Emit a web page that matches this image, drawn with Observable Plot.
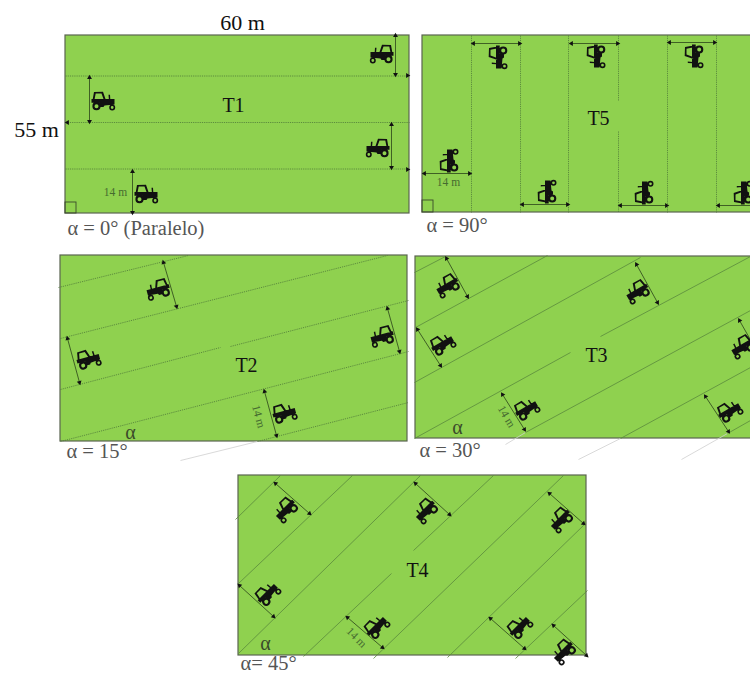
<!DOCTYPE html>
<html>
<head>
<meta charset="utf-8">
<style>html,body{margin:0;padding:0;background:#fff}svg{display:block}</style>
<script src="https://cdn.jsdelivr.net/npm/d3@7"></script>
<script src="https://cdn.jsdelivr.net/npm/@observablehq/plot@0.6"></script>
</head>
<body>
<div id="chart"></div>
<script>
// Fields: x1, y1, x2, y2
const fields = [[65,35,409,213],[422,35,755,212],[60,255,407,441],[415,256,755,438],[238,475,586,655]];
const rightAngles = [[65,202,76,213],[422,200,433,212]];

// Row lines inside the fields: x1, y1, x2, y2
const rowsT1 = [[65,75.5,409,75.5],[65,122,409,122],[65,168.5,409,168.5]];
const rowsT5 = [[471,35,471,212],[520,35,520,212],[568,35,568,212],[618,35,618,100],[618,131,618,212],[667,35,667,212],[716,35,716,212]];
const rowsT2 = [[58,287,188,255],[60,338,387,255],[60,389,220,347],[230,346,408,300],[60,441,408,351],[257,441,408,402]];
const rowsT3 = [[414,272,445,256],[415,327,547,255],[414,382,640,257],[414,438,570,352],[600,336,750,256],[525,432,750,310],[620,438,750,367],[727,433,750,420]];
const rowsT4 = [[235,519,280,475],[238,583,352,475],[238,653,420,475],[303,656,391,573],[413,550,493,475],[373,658,563,475],[447,657,585,523],[515,658,587,590]];
const stubs = [[180,460,257,441],[505,444,525,432],[578,459,620,438],[681,459,727,433]];

// Working-width arrows, both ends: x1, y1, x2, y2
const widthT1 = [[395,35,395,74],[89,77,89,121],[391,124,391,167],[132,171,132,212]];
const widthT5 = [[473,43,519,43],[571,43,617,43],[669,42,714,42],[424,173,469,173],[522,204,567,204],[620,205,666,205],[718,205,765,205]];
const widthT2 = [[163,262,176,306],[67,338,79,382],[387,308,399,351],[264,391,276,435]];
const widthT3 = [[446,258,467,296],[636,264,657,302],[739,320,760,357],[417,329,440,365],[502,394,524,429],[705,396,728,431]];
const widthT4 = [[275,483,309,513],[415,483,449,514],[549,493,583,523],[239,585,273,616],[347,617,382,647],[490,618,524,648],[553,625,586,655]];
// Single arrowheads on the field edges: x, y, dx, dy
const edgeHeads = [[407,75,1,0],[407,169,1,0],[67,122,-1,0]];

// Tractors: x, y, heading angle
const tractorsRight = [[102,100,0],[145,193,0],[448,161,-90],[546,192,-90],[643,193,-90],[742,193,-90],[87,358,-15],[283,412,-15],[441,343,-30],[525,408,-30],[728,410,-30],[266,593,-45],[375,626,-45],[518,626,-45]];
const tractorsLeft = [[382,53,0],[378,147,0],[497,56,-90],[595,55,-90],[693,55,-90],[158,288,-15],[382,335,-15],[447,284,-30],[637,290,-30],[742,345,-30],[285,508,-45],[425,509,-45],[560,518,-45],[563,650,-45]];

// Text
const treatments = [["T1",233,105],["T5",598,118],["T2",246,365],["T3",596,355],["T4",417,570]];
const dimensions = [["60 m",242,22],["55 m",36,129]];
const alphas = [["α",130,432],["α",457,427],["α",265,643]];
const captions = [["α = 0° (Paralelo)",67,228],["α = 90°",426,225],["α = 15°",66,451],["α = 30°",419,450],["α= 45°",240,663]];
const widthLabels = [["14 m",115,192,0],["14 m",448,182,0],["14 m",258,416,75],["14 m",506,416,60],["14 m",356,637,45]];

function tractor(sign) {
  return {
    draw(ctx, size) {
      const k = Math.sqrt(size / Math.PI) / 10;
      const poly = pts => {
        pts.forEach(([x, y], i) => i ? ctx.lineTo(sign * x * k, y * k) : ctx.moveTo(sign * x * k, y * k));
        ctx.closePath();
      };
      const ring = (x, y, R, r) => {
        ctx.moveTo(sign * x * k + R * k, y * k);
        ctx.arc(sign * x * k, y * k, R * k, 0, 2 * Math.PI, sign < 0);
        ctx.moveTo(sign * x * k + r * k, y * k);
        ctx.arc(sign * x * k, y * k, r * k, 0, 2 * Math.PI, sign > 0);
      };
      poly([[-11,-1.5],[12,-1.5],[12,4],[2,5],[1,6.5],[-2,6.5],[-3,2.2],[-11,2.2]]);
      poly([[-10,0],[-8.5,-8.5],[0.5,-8.8],[3.5,0]]);
      poly([[1.2,-1],[-1,-7],[-6.8,-7],[-8,-1]]);
      poly([[6,-5.7],[7.5,-5.7],[7.8,-1],[6.4,-1]]);
      ring(-6, 5.7, 4.1, 2);
      ring(9.7, 7, 3, 1.4);
    }
  };
}

const toLink = ([x1,y1,x2,y2]) => ({x1,y1,x2,y2});
const toTractor = ([x,y,angle]) => ({x,y,angle});
const toText = ([text,x,y,angle=0]) => ({text,x,y,angle});
const allWidths = [...widthT1,...widthT5,...widthT2,...widthT3,...widthT4];
const heads = [
  ...allWidths.flatMap(([x1,y1,x2,y2]) => [
    {x:x1,y:y1,angle:Math.atan2(x1-x2,-(y1-y2))*180/Math.PI},
    {x:x2,y:y2,angle:Math.atan2(x2-x1,-(y2-y1))*180/Math.PI}
  ]),
  ...edgeHeads.map(([x,y,dx,dy]) => ({x,y,angle:Math.atan2(dx,-dy)*180/Math.PI}))
];
const dotted = {x1:"x1",y1:"y1",x2:"x2",y2:"y2",stroke:"#5a8a3c",strokeWidth:0.8};
const pos = {x:"x",y:"y",text:"text",fontFamily:"Liberation Serif"};

const chart = Plot.plot({
  width:750, height:675,
  marginTop:0, marginRight:0, marginBottom:0, marginLeft:0,
  x:{domain:[0,750],range:[0,750],axis:null},
  y:{domain:[0,675],range:[0,675],axis:null},
  style:{background:"#fff",fontFamily:"Liberation Serif"},
  marks:[
    Plot.rect(fields.map(toLink),{x1:"x1",y1:"y1",x2:"x2",y2:"y2",fill:"#8fd14f",stroke:"#5a6450",strokeWidth:1.2}),
    Plot.rect(rightAngles.map(toLink),{x1:"x1",y1:"y1",x2:"x2",y2:"y2",stroke:"#3a4a2a",strokeWidth:0.9}),
    Plot.link(stubs.map(toLink),{...dotted,stroke:"#cfcfcf"}),
    Plot.link([...rowsT1,...rowsT5,...rowsT2].map(toLink),{...dotted,stroke:"#4f7a38",strokeDasharray:"1.2,1"}),
    Plot.link([...rowsT3,...rowsT4].map(toLink),dotted),
    Plot.link(allWidths.map(toLink),{x1:"x1",y1:"y1",x2:"x2",y2:"y2",stroke:"#35521f",strokeWidth:0.9}),
    Plot.dot(heads,{x:"x",y:"y",rotate:"angle",symbol:"triangle",r:1.8,fill:"#111",stroke:"none"}),
    Plot.dot(tractorsRight.map(toTractor),{x:"x",y:"y",rotate:"angle",symbol:tractor(1),r:10,fill:"#111",stroke:"none"}),
    Plot.dot(tractorsLeft.map(toTractor),{x:"x",y:"y",rotate:"angle",symbol:tractor(-1),r:10,fill:"#111",stroke:"none"}),
    Plot.text(treatments.map(toText),{...pos,fontSize:20,fill:"#111"}),
    Plot.text(dimensions.map(toText),{...pos,fontSize:22,fill:"#111"}),
    Plot.text(alphas.map(toText),{...pos,fontSize:20,fill:"#3a4a2a"}),
    Plot.text(captions.map(toText),{...pos,fontSize:20.5,textAnchor:"start",fill:"#555"}),
    Plot.text(widthLabels.map(toText),{...pos,rotate:"angle",fontSize:11.5,fill:"#456b30"})
  ]
});
document.getElementById("chart").appendChild(chart);
</script>
</body>
</html>
